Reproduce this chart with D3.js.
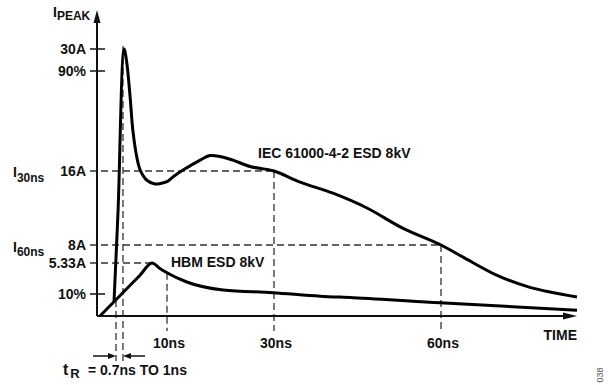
<!DOCTYPE html>
<html>
<head>
<meta charset="utf-8">
<script src="https://cdn.jsdelivr.net/npm/d3@7"></script>
<style>
  html, body { margin: 0; padding: 0; background: #fff; }
  svg { display: block; }
  text { font-family: "Liberation Sans", Arial, Helvetica, sans-serif; font-weight: bold; fill: #111; }
</style>
</head>
<body>
<svg id="chart" width="608" height="385"></svg>
<script>
// ---- data (time in ns, current in A; schematic waveform) ----
const iecTime = [2.09, 2.7, 3.6, 4.0, 4.5, 4.9, 5.5, 6.0, 7.0, 8.2, 9.0, 10, 11.1, 13, 16.2, 18, 19.9, 22.3, 25.5, 30, 34.7, 40.6, 46.7, 53.2, 60, 63.9, 69.9, 75.7, 84];
const iecAmps = [1.95, 11.8, 30, 28.1, 24.1, 20.5, 17.5, 16.1, 15.0, 14.6, 14.65, 14.85, 15.35, 16.1, 17.2, 17.7, 17.6, 17.2, 16.5, 16.0, 14.8, 13.6, 12.0, 9.8, 8.0, 6.2, 4.4, 3.5, 2.6];

const hbmTime = [0, 2.09, 3.22, 5.97, 7.76, 9.0, 10, 13.7, 20.5, 29.8, 38.3, 44.2, 59.8, 84];
const hbmAmps = [0, 1.95, 3.0, 4.41, 5.33, 4.9, 4.6, 3.9, 3.3, 3.1, 2.7, 2.5, 1.8, 0.8];

const yTickValues = [30, 27, 16, 8, 5.33, 3];
const yTickLabels = ["30A", "90%", "16A", "8A", "5.33A", "10%"];
const yDashedTicks = [16, 8, 5.33];

const xTickValues = [10, 30, 60];
const xTickLabels = ["10ns", "30ns", "60ns"];
const xGuideAmps = [4.6, 16, 8];      // where each time guide meets its curve
const yGuideTime = [30, 60, 7.76];    // where each current guide (16A, 8A, 5.33A) ends

const riseTimes = [2.39, 3.43];       // t_R markers
const riseTopAmps = [2.18, 30.4];

// ---- scales (schematic, piecewise linear) ----
const x = d3.scaleLinear().domain([0, 10, 30, 60, 84]).range([100, 167, 274, 441, 577]);
const y = d3.scaleLinear().domain([0, 3, 5.33, 8, 16, 27, 30]).range([316, 294, 263, 245, 171, 71, 49]);

const svg = d3.select("#chart");
const originX = 97, originY = y(0);
const dashColor = "#333";

// ---- guides (dashed) ----
const g = svg.append("g").attr("stroke", dashColor).attr("stroke-width", 1.3)
  .attr("stroke-dasharray", "7,4").attr("fill", "none");

yDashedTicks.forEach((v, i) => {
  g.append("line").attr("x1", 90).attr("x2", x(yGuideTime[i]))
    .attr("y1", y(v)).attr("y2", y(v));
});
xTickValues.forEach((v, i) => {
  g.append("line").attr("x1", x(v)).attr("x2", x(v))
    .attr("y1", y(xGuideAmps[i])).attr("y2", 331);
});
riseTimes.forEach((v, i) => {
  g.append("line").attr("x1", x(v)).attr("x2", x(v))
    .attr("y1", y(riseTopAmps[i])).attr("y2", 361);
});

// ---- solid ticks ----
yTickValues.forEach(v => {
  if (yDashedTicks.includes(v)) return;
  svg.append("line").attr("x1", 90).attr("x2", 105).attr("y1", y(v)).attr("y2", y(v))
    .attr("stroke", "#111").attr("stroke-width", 1.5);
});

// ---- axes ----
svg.append("line").attr("x1", originX).attr("y1", originY).attr("x2", originX).attr("y2", 20)
  .attr("stroke", "#111").attr("stroke-width", 2);
svg.append("path").attr("d", `M${originX},10 L${originX - 3.5},23 L${originX + 3.5},23 Z`).attr("fill", "#111");
svg.append("line").attr("x1", originX).attr("y1", originY).attr("x2", 568).attr("y2", originY)
  .attr("stroke", "#111").attr("stroke-width", 2);
svg.append("path").attr("d", `M577,${originY} L563,${originY - 3.5} L563,${originY + 3.5} Z`).attr("fill", "#111");

// ---- curves ----
const hbmLine = d3.line().x(d => x(d[0])).y(d => y(d[1])).curve(d3.curveMonotoneX);
const iecLine = d3.line().x(d => x(d[0])).y(d => y(d[1])).curve(d3.curveCatmullRom.alpha(0.5));
svg.append("path").datum(hbmTime.map((t, i) => [t, hbmAmps[i]]))
  .attr("d", hbmLine).attr("fill", "none").attr("stroke", "#000").attr("stroke-width", 3)
  .attr("stroke-linejoin", "round");
svg.append("path").datum(iecTime.map((t, i) => [t, iecAmps[i]]))
  .attr("d", iecLine).attr("fill", "none").attr("stroke", "#000").attr("stroke-width", 3)
  .attr("stroke-linejoin", "round");

// ---- y tick labels ----
yTickValues.forEach((v, i) => {
  svg.append("text").attr("x", 86).attr("y", y(v) + 5).attr("text-anchor", "end")
    .attr("font-size", 14).text(yTickLabels[i]);
});

// ---- x tick labels ----
xTickValues.forEach((v, i) => {
  svg.append("text").attr("x", x(v) + 2).attr("y", 348).attr("text-anchor", "middle")
    .attr("font-size", 14).text(xTickLabels[i]);
});
svg.append("text").attr("x", 577).attr("y", 340).attr("text-anchor", "end")
  .attr("font-size", 14).text("TIME");

// ---- subscripted labels ----
function subLabel(xp, yp, main, sub, dy) {
  const t = svg.append("text").attr("x", xp).attr("y", yp).attr("font-size", 14);
  t.append("tspan").text(main);
  t.append("tspan").attr("font-size", 12).attr("dy", dy).text(sub);
  return t;
}
subLabel(53, 17, "I", "PEAK", 3);
subLabel(13, 177, "I", "30ns", 5);
subLabel(13, 252, "I", "60ns", 4);

// ---- series labels ----
svg.append("text").attr("x", 258).attr("y", 158).attr("font-size", 14).text("IEC 61000-4-2 ESD 8kV");
svg.append("text").attr("x", 171).attr("y", 267).attr("font-size", 14).text("HBM ESD 8kV");

// ---- rise time annotation ----
const ay = 356;
svg.append("line").attr("x1", 93).attr("x2", x(riseTimes[0]) - 6).attr("y1", ay).attr("y2", ay)
  .attr("stroke", "#111").attr("stroke-width", 1.5);
svg.append("path").attr("d", `M${x(riseTimes[0])},${ay} L${x(riseTimes[0]) - 8},${ay - 3} L${x(riseTimes[0]) - 8},${ay + 3} Z`).attr("fill", "#111");
svg.append("line").attr("x1", 145).attr("x2", x(riseTimes[1]) + 6).attr("y1", ay).attr("y2", ay)
  .attr("stroke", "#111").attr("stroke-width", 1.5);
svg.append("path").attr("d", `M${x(riseTimes[1])},${ay} L${x(riseTimes[1]) + 8},${ay - 3} L${x(riseTimes[1]) + 8},${ay + 3} Z`).attr("fill", "#111");

const tr = svg.append("text").attr("x", 63).attr("y", 375).attr("font-size", 16);
tr.append("tspan").text("t");
tr.append("tspan").attr("font-size", 13).attr("dx", 2).attr("dy", 3).text("R");
tr.append("tspan").attr("font-size", 14).attr("x", 88).attr("dy", -3).text("= 0.7ns TO 1ns");

// ---- figure id ----
svg.append("text").attr("transform", "translate(603,375) rotate(-90)")
  .attr("text-anchor", "middle").attr("font-size", 9)
  .style("font-weight", "normal").style("fill", "#555").text("038");
</script>
</body>
</html>
